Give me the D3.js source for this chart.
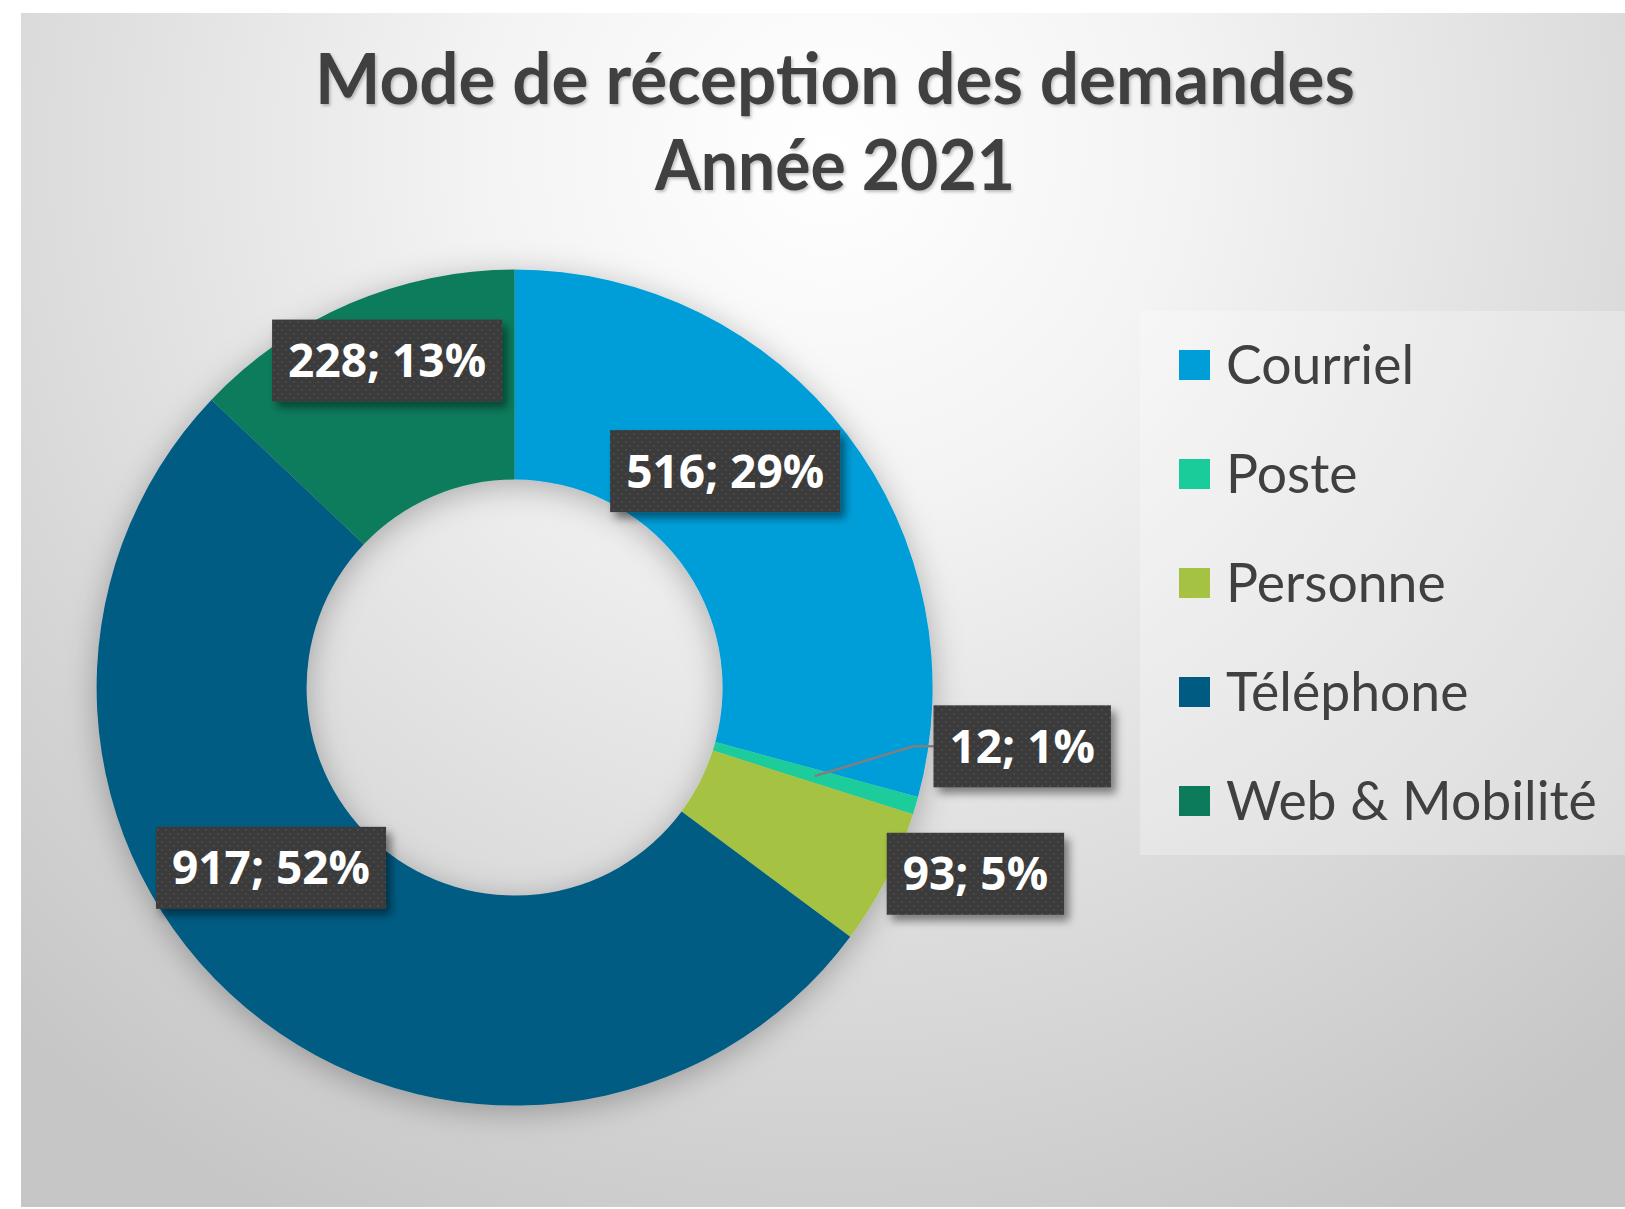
<!DOCTYPE html>
<html><head><meta charset="utf-8">
<script src="https://cdn.jsdelivr.net/npm/d3@7"></script>
<style>html,body{margin:0;padding:0;background:#fff;} svg{display:block;}</style>
</head><body><svg id="chart" width="1625" height="1209"></svg>
<script>
// ---- data ----
const categories = ["Courriel", "Poste", "Personne", "Téléphone", "Web & Mobilité"];
const values = [516, 12, 93, 917, 228];
const colors = ["#009ED8", "#1BCC9B", "#A5C243", "#005B83", "#0B7B5C"];
const titleLines = ["Mode de réception des demandes", "Année 2021"];

// ---- layout (label placement: angle in degrees from top, radius from centre) ----
const labelAngle = [44.2, 96.6, 112, 233.5, 338.7];
const labelRadius = [302, 511, 497, 303, 351];
const labelLeader = [false, true, false, false, false];

const W = 1625, H = 1209;
const cx = 514.6, cy = 687.6, rOut = 418, rIn = 208;
const svg = d3.select("#chart");
const defs = svg.append("defs");

const bg = defs.append("radialGradient").attr("id", "bg").attr("gradientUnits", "userSpaceOnUse")
  .attr("cx", 830).attr("cy", 150).attr("r", 1200);
[[0, "#ffffff"], [0.3, "#f3f3f3"], [0.72, "#d8d8d8"], [1, "#c6c6c6"]].forEach(s =>
  bg.append("stop").attr("offset", s[0]).attr("stop-color", s[1]));

const pat = defs.append("pattern").attr("id", "dots").attr("patternUnits", "userSpaceOnUse")
  .attr("width", 8).attr("height", 8);
pat.append("rect").attr("width", 8).attr("height", 8).attr("fill", "#3a3a3a");
pat.append("circle").attr("cx", 2).attr("cy", 2).attr("r", 1.1).attr("fill", "#4c4c4c");
pat.append("circle").attr("cx", 6).attr("cy", 6).attr("r", 1.1).attr("fill", "#4c4c4c");

const sh = defs.append("filter").attr("id", "boxShadow").attr("x", "-20%").attr("y", "-30%").attr("width", "150%").attr("height", "170%");
sh.append("feDropShadow").attr("dx", 5).attr("dy", 6).attr("stdDeviation", 4).attr("flood-color", "#000").attr("flood-opacity", 0.45);

const ds = defs.append("filter").attr("id", "donutShadow").attr("x", "-20%").attr("y", "-20%").attr("width", "140%").attr("height", "140%");
ds.append("feDropShadow").attr("dx", 0).attr("dy", 6).attr("stdDeviation", 16).attr("flood-color", "#000").attr("flood-opacity", 0.28);

const ts = defs.append("filter").attr("id", "titleShadow");
ts.append("feDropShadow").attr("dx", 1.5).attr("dy", 2).attr("stdDeviation", 1.5).attr("flood-color", "#000").attr("flood-opacity", 0.25);

// background
svg.append("rect").attr("x", 21).attr("y", 13).attr("width", W - 21).attr("height", H - 15).attr("fill", "url(#bg)");

// title
svg.append("g").attr("filter", "url(#titleShadow)").selectAll("text").data(titleLines).join("text")
  .attr("x", 835).attr("y", (d, i) => 104 + i * 86)
  .attr("text-anchor", "middle")
  .attr("font-family", "Lato, 'Open Sans', sans-serif").attr("font-weight", 700)
  .attr("font-size", 70).attr("fill", "#404040")
  .attr("textLength", (d, i) => i === 0 ? 1040 : 360).attr("lengthAdjust", "spacingAndGlyphs")
  .text(d => d);

// donut
const total = d3.sum(values);
const pie = d3.pie().sort(null).value(d => d.v);
const arcs = pie(values.map((v, i) => ({ v, i })));
const arc = d3.arc().innerRadius(rIn).outerRadius(rOut);
const g = svg.append("g").attr("transform", `translate(${cx},${cy})`);
g.append("g").attr("filter", "url(#donutShadow)").selectAll("path").data(arcs).join("path")
  .attr("d", arc).attr("fill", d => colors[d.data.i]);

// legend
svg.append("rect").attr("x", 1140).attr("y", 311).attr("width", W - 1140).attr("height", 544)
  .attr("fill", "#ffffff").attr("opacity", 0.28);
const leg = svg.append("g").selectAll("g").data(categories).join("g")
  .attr("transform", (d, i) => `translate(1179,${365 + i * 109})`);
leg.append("rect").attr("x", 0).attr("y", -15).attr("width", 31).attr("height", 30).attr("fill", (d, i) => colors[i]);
leg.append("text").attr("x", 47).attr("y", 0).attr("dy", "0.35em")
  .attr("font-family", "Lato, 'Open Sans', sans-serif").attr("font-size", 53.5).attr("fill", "#404040")
  .text(d => d);

// data labels
const labG = svg.append("g");
arcs.forEach((a, i) => {
  const ang = labelAngle[i] * Math.PI / 180;
  const lx = cx + labelRadius[i] * Math.sin(ang);
  const ly = cy - labelRadius[i] * Math.cos(ang);
  const pct = Math.round(values[i] / total * 100);
  const lg = labG.append("g");
  const t = lg.append("text").attr("x", lx).attr("y", ly).attr("dy", "0.36em")
    .attr("text-anchor", "middle")
    .attr("font-family", "'Open Sans', sans-serif").attr("font-weight", 700)
    .attr("font-size", 46).attr("fill", "#ffffff")
    .text(`${values[i]}; ${pct}%`);
  const tw = t.node().getComputedTextLength();
  const bw = tw + 32, bh = 82;
  lg.insert("rect", "text").attr("x", lx - bw / 2).attr("y", ly - bh / 2).attr("width", bw).attr("height", bh)
    .attr("fill", "url(#dots)").attr("filter", "url(#boxShadow)");
  if (labelLeader[i]) {
    const c = arc.centroid(a);
    const sx = cx + c[0], sy = cy + c[1];
    const ex = lx - bw / 2;
    labG.insert("path", ":first-child")
      .attr("d", `M${sx},${sy}L${ex - 20},${ly}L${ex},${ly}`)
      .attr("fill", "none").attr("stroke", "#7f7f7f").attr("stroke-width", 2.5);
  }
});
</script></body></html>
